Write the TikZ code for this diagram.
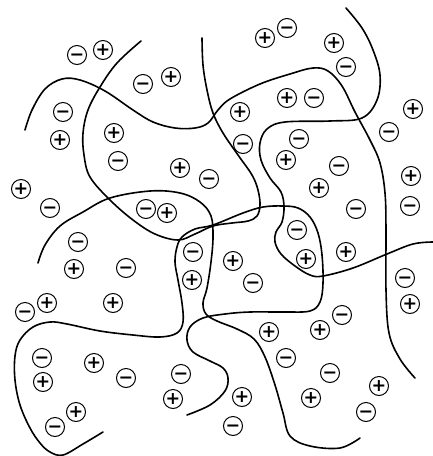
\documentclass[tikz,border=0pt]{standalone}
\usepackage{fontspec}
\newfontfamily\signfont{DejaVu Sans}
\begin{document}
\begin{tikzpicture}[x=1pt,y=-1pt]
\tikzset{
  chg/.style={circle, draw, line width=1pt, minimum size=19pt, inner sep=0pt, font=\signfont\bfseries\fontsize{17.5}{17.5}\selectfont},
  curve/.style={line width=1.6pt, line cap=round, line join=round},
}
\def\signp{+}
\def\signm{\vphantom{+}−}
\useasboundingbox (0,0) rectangle (433,456);
% curves
\draw[curve] plot[smooth, tension=0.6] coordinates {(141,41) (117,63) (100,87) (88,110) (83,133) (84,155) (90,177) (110,200) (133,220) (155,234) (178,240) (195,234) (213,226) (232,223) (248,221) (257,216) (260,205) (258,190) (252,175) (238,155) (223,133) (213,113) (207,90) (203,65) (202,38)};
\draw[curve] plot[smooth, tension=0.6] coordinates {(38,263) (45,245) (60,226) (83,212) (110,198) (150,191) (180,193) (200,202) (211,216) (213,237) (211,262) (207,288) (203,303) (206,314) (217,321) (237,329) (254,339) (265,357) (275,385) (283,413) (290,436) (310,446) (340,448) (360,438)};
\draw[curve] plot[smooth, tension=0.6] coordinates {(25,130) (32,110) (45,89) (62,79) (80,80) (105,91) (133,110) (153,122) (175,128) (195,128) (208,123) (218,110) (230,99) (260,84) (290,74) (313,68) (328,71) (342,86) (355,112) (370,140) (380,163) (385,193) (386,230) (386,290) (389,333) (400,359) (415,378)};
\draw[curve] plot[smooth, tension=0.6] coordinates {(103,432) (83,444) (63,455) (50,452) (40,443) (30,428) (20,405) (15,380) (15,356) (20,340) (33,327) (50,322) (67,324) (100,331) (133,335) (160,337) (177,333) (183,322) (182,303) (178,280) (175,262) (177,247) (182,237) (195,229) (213,225) (243,213) (263,207) (283,206) (298,208) (310,217) (318,233) (322,255) (323,283) (320,302) (310,311) (285,312) (250,312) (225,314) (203,318) (190,327) (187,340) (193,352) (210,361) (223,368) (228,378) (225,391) (210,405) (187,415)};
\draw[curve] plot[smooth, tension=0.6] coordinates {(346,8) (362,28) (373,50) (380,75) (377,100) (362,118) (330,121) (285,122) (267,129) (260,143) (261,160) (270,178) (281,192) (284,207) (282,222) (276,232) (275,242) (281,254) (295,266) (310,275) (323,276) (353,268) (387,254) (413,244) (433,242)};
% charges
\foreach \x/\y/\s [count=\i] in {
77/55/m, 103/50/p, 143/84/m, 171/77/p, 63/112/m, 60/140/p, 114/133/p, 118/161/m,
180/168/p, 209/179/m, 21/189/p, 50/208/m, 146/209/m, 167/213/p, 265/38/p, 287/28/m,
334/43/p, 346/67/m, 287/98/p, 314/98/m, 240/112/p, 243/144/m, 413/109/p, 389/132/m,
299/139/m, 286/160/p, 339/166/m, 319/188/p, 411/176/p, 410/206/m, 356/209/m, 297/230/m,
306/259/p, 193/252/m, 192/280/p, 233/261/p, 253/283/m, 346/252/p, 78/242/m, 74/269/p,
126/268/m, 47/303/p, 25/312/m, 113/303/p, 405/278/m, 410/304/p, 342/315/m, 320/330/p,
269/332/p, 286/358/m, 330/373/m, 379/386/p, 366/412/m, 311/398/p, 242/397/p, 233/426/m,
42/358/m, 43/382/p, 94/363/p, 126/378/m, 181/374/m, 173/399/p, 76/412/p, 55/427/m}
  \node[chg] (q\i) at (\x,\y) {\csname sign\s\endcsname};
\end{tikzpicture}
\end{document}
